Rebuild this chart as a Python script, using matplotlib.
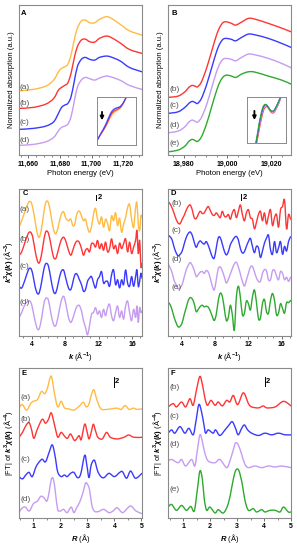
import matplotlib
matplotlib.use('Agg')
import matplotlib.pyplot as plt
from matplotlib.path import Path
from matplotlib.patches import PathPatch
from matplotlib.ticker import MultipleLocator, FuncFormatter

plt.rcParams.update({
    'font.family': ['Liberation Sans', 'DejaVu Sans'],
    'font.weight': 'bold',
    'font.size': 5.5,
    'mathtext.fontset': 'custom',
    'mathtext.rm': 'Liberation Sans:bold',
    'mathtext.it': 'Liberation Sans:italic:bold',
    'mathtext.bf': 'Liberation Sans:bold',
    'axes.linewidth': 0.8,
    'axes.edgecolor': '#8a8a8a',
    'xtick.major.size': 2.2,
    'xtick.minor.size': 1.2,
    'xtick.major.width': 0.6,
    'xtick.minor.width': 0.5,
    'xtick.color': '#555555',
    'xtick.labelcolor': 'black',
    'xtick.major.pad': 2.0,
    'xtick.labelsize': 5,
})

ORANGE = '#ffbb44'
RED = '#ff3535'
BLUE = '#3a3aff'
PURPLE = '#c59cf0'
GREEN = '#2eaa2e'
GRAY = '#555555'

# ---- A: L3-edge XANES (a.u.)
A_E = [11654, 11663, 11671, 11676, 11679, 11681, 11683, 11685, 11687, 11689, 11691,
       11693.5, 11696, 11699, 11702, 11705, 11709, 11712, 11718, 11724, 11732]
A_a = [64.3, 65.7, 69, 75, 83.3, 86.7, 88.3, 91, 100, 115, 126.7, 134, 135, 132.3, 132.3,
       135.7, 138.3, 137.3, 131, 124.3, 120]
A_b = [46.7, 47.7, 51, 56.7, 65, 67.7, 69.7, 72.3, 81.7, 96.7, 108.3, 115, 116, 113.3, 113,
       116.7, 119, 118, 112.3, 105.7, 101.7]
A_c = [25.7, 26.7, 29, 33.3, 41.7, 47.7, 50, 51.7, 58.3, 73.3, 88.3, 95.7, 97.7, 95.7, 95,
       97.7, 99, 98.3, 94.3, 87.7, 83.3]
A_d = [9.7, 10.7, 13.3, 17.7, 24.3, 27.7, 29, 31, 38.3, 53.3, 67.7, 75, 77.7, 76.3, 75,
       77, 79, 78.3, 75, 69.7, 65.7]

# inset of A (zoomed edge, a.u.)
Ai_x = [0, 8, 18, 28, 38, 46, 56, 68, 78, 88]
Ai_blue = [15, 30, 47, 67, 90, 103, 110, 115, 127, 147]
Ai_purple = [15, 31, 49, 70, 93, 106, 112, 116, 128, 147]
Ai_red = [15, 29, 45, 63, 85, 98, 105, 112, 126, 147]
Ai_orange = [15, 28, 43, 60, 80, 93, 102, 110, 125, 147]

# ---- B: K-edge XANES (a.u.)
B_E = [18972.8, 18977.4, 18980.5, 18982.3, 18983.8, 18985.1, 18986.3, 18988.1, 18990.4,
       18992.7, 18995, 18996.6, 18998.1, 18999.6, 19001.9, 19003.8, 19006.5, 19009.6,
       19012.6, 19018.8, 19024.9, 19029.2]
B_b = [57.7, 59, 63.3, 67.7, 69.7, 69, 68.3, 73.3, 86.7, 103.3, 120, 128.3, 132.7, 133.3,
       131.7, 130, 133, 136.7, 136, 131.7, 127, 123.3]
B_c = [41.7, 43.3, 47.7, 51.7, 53.7, 52.7, 51.7, 56.7, 70, 86.7, 103.3, 111.7, 116, 116.7,
       115.7, 114.3, 117.7, 121, 120.3, 116.7, 111.7, 107.7]
B_d = [22.3, 24, 28.3, 33, 35, 34, 33, 37.7, 50, 66.7, 83.3, 91.7, 96, 96.7, 95.7, 94.3,
       97.7, 101, 100.3, 96.7, 91.7, 87.3]
B_e = [3.3, 5, 9, 13.7, 15.7, 14.7, 13.7, 18.3, 31, 47.7, 64.3, 73.3, 78.3, 80, 79, 77.7,
       81, 83.3, 83, 79, 75, 71]

Bi_green_x = [25, 30, 35, 40, 45, 50, 56, 63, 70, 78, 86, 93, 100]
Bi_green = [0, 28, 58, 83, 103, 113, 115, 106, 96, 95, 108, 123, 140]
Bi_blue_x = [26, 31, 36, 41, 46, 51, 57, 64, 71, 79, 87, 94, 100]
Bi_blue = [0, 28, 58, 82, 102, 112, 114, 105, 96, 96, 110, 125, 138]
Bi_purple_x = [27, 32, 37, 42, 47, 52, 58, 65, 72, 80, 88, 95, 101]
Bi_purple = [0, 27, 55, 79, 99, 109, 111, 101, 93, 93, 107, 122, 138]
Bi_red_x = [28, 33, 38, 43, 48, 53, 59, 66, 73, 80, 88, 95, 101]
Bi_red = [0, 26, 53, 76, 96, 106, 108, 98, 90, 91, 105, 120, 138]

# ---- C: k3 chi(k), first edge (a.u.)
C_k = [2.48, 2.8, 3.2, 3.6, 3.88, 4.12, 4.4, 4.68, 4.92, 5.2, 5.48, 5.72, 6.0, 6.28, 6.6,
       6.88, 7.16, 7.48, 7.8, 8.08, 8.4, 8.68, 8.92, 9.16, 9.4, 9.68, 9.96, 10.2, 10.44,
       10.68, 10.92, 11.16, 11.4, 11.64, 11.88, 12.12, 12.36, 12.6, 12.84, 13.08, 13.32,
       13.56, 13.8, 14.04, 14.28, 14.52, 14.76, 15.0, 15.24, 15.48, 15.72, 15.96, 16.2,
       16.44, 16.6, 16.76, 16.92, 17.08, 17.2]
C_a = [332, 350, 380, 405, 408, 390, 350, 310, 300, 330, 380, 408, 405, 370, 325, 310, 330,
       365, 378, 358, 350, 355, 335, 340, 370, 380, 365, 350, 355, 330, 315, 332, 370, 388,
       355, 340, 362, 330, 355, 342, 320, 365, 350, 375, 335, 358, 315, 340, 360, 390, 400,
       355, 330, 390, 405, 340, 320, 365, 360]
C_b = [245, 255, 285, 312, 315, 300, 260, 228, 222, 250, 295, 318, 312, 280, 240, 235, 258,
       288, 300, 288, 260, 245, 260, 278, 288, 285, 265, 245, 260, 265, 255, 280, 280, 270,
       290, 265, 280, 260, 285, 255, 265, 295, 265, 275, 250, 282, 265, 280, 295, 255, 285,
       250, 270, 290, 320, 250, 290, 210, 220]
C_c = [150, 145, 170, 200, 205, 188, 150, 128, 132, 165, 205, 220, 212, 175, 135, 130, 158,
       192, 200, 175, 145, 140, 162, 185, 188, 172, 155, 135, 140, 165, 175, 180, 160, 145,
       170, 180, 195, 160, 165, 165, 150, 185, 200, 155, 170, 145, 170, 155, 200, 160, 150,
       180, 150, 180, 200, 150, 165, 190, 175]
C_d = [55, 70, 95, 105, 102, 80, 45, 20, 22, 55, 100, 114, 108, 70, 35, 30, 58, 100, 120,
       98, 55, 40, 52, 72, 88, 92, 75, 45, 25, 2, 30, 65, 70, 85, 65, 75, 55, 80, 60, 85, 95,
       60, 45, 70, 90, 55, 75, 50, 90, 105, 70, 45, 80, 55, 90, 40, 85, 70, 75]

# ---- D: k3 chi(k), second edge (a.u.)
D_k = [2.4, 2.64, 2.88, 3.12, 3.36, 3.6, 3.84, 4.08, 4.32, 4.56, 4.8, 5.04, 5.28, 5.52,
       5.76, 6.0, 6.24, 6.48, 6.72, 6.96, 7.2, 7.44, 7.68, 7.92, 8.16, 8.4, 8.64, 8.88,
       9.12, 9.36, 9.6, 9.84, 10.08, 10.32, 10.56, 10.8, 11.04, 11.28, 11.52, 11.76, 12.0,
       12.24, 12.48, 12.72, 12.96, 13.2, 13.44, 13.68, 13.92, 14.16, 14.4, 14.64, 14.88,
       15.12, 15.36, 15.6, 15.84, 16.08, 16.32, 16.56, 16.8, 17.04]
D_b = [420, 413, 400, 383, 365, 353, 351, 365, 377, 393, 405, 410, 395, 370, 367, 380, 390,
       383, 385, 397, 405, 393, 380, 377, 385, 377, 370, 390, 375, 373, 380, 365, 385, 395,
       370, 390, 410, 380, 360, 385, 395, 370, 365, 335, 355, 380, 390, 360, 385, 350, 375,
       395, 345, 370, 380, 340, 395, 405, 425, 335, 380, 365]
D_c = [315, 310, 300, 277, 260, 250, 255, 265, 287, 307, 320, 325, 315, 293, 277, 290, 297,
       291, 287, 295, 283, 265, 247, 243, 275, 307, 307, 287, 265, 253, 263, 285, 297, 307,
       311, 300, 273, 259, 263, 280, 295, 305, 280, 260, 280, 275, 245, 265, 290, 305, 315,
       270, 255, 295, 260, 275, 295, 255, 280, 265, 295, 310]
D_d = [225, 213, 197, 173, 160, 147, 150, 160, 183, 205, 220, 229, 220, 205, 185, 191, 199,
       201, 195, 204, 199, 180, 155, 143, 175, 210, 215, 203, 184, 165, 176, 193, 210, 225,
       230, 215, 193, 170, 155, 174, 195, 215, 217, 200, 181, 170, 170, 195, 207, 203, 175,
       175, 203, 205, 187, 175, 201, 195, 175, 183, 170, 183]
D_e = [105, 97, 80, 57, 40, 27, 29, 40, 65, 87, 109, 119, 115, 100, 75, 82, 91, 95, 90, 92,
       89, 77, 60, 47, 67, 110, 133, 123, 85, 47, 57, 95, 65, 17, 120, 155, 120, 65, 70, 108,
       100, 80, 120, 143, 105, 53, 55, 100, 113, 75, 70, 110, 132, 110, 65, 70, 100, 85, 70,
       103, 103, 110]

# ---- E: |FT|, first edge (a.u.)
Ea_R = [0.47, 0.59, 0.75, 0.9, 1.0, 1.15, 1.3, 1.42, 1.52, 1.66, 1.78, 1.9, 2.03, 2.15, 2.3,
        2.5, 2.7, 2.85, 2.95, 3.05, 3.15, 3.24, 3.35, 3.5, 3.7, 3.9, 4.1, 4.25, 4.4, 4.55,
        4.7, 4.85, 5.02]
Ea = [335, 345, 328, 348, 355, 360, 385, 378, 395, 432, 380, 338, 355, 335, 332, 328, 340,
      352, 338, 345, 375, 390, 360, 332, 330, 332, 334, 330, 342, 330, 334, 330, 332]
Eb_R = [0.47, 0.6, 0.72, 0.84, 0.93, 1.02, 1.15, 1.33, 1.45, 1.56, 1.66, 1.75, 1.82, 1.91,
        2.03, 2.16, 2.26, 2.38, 2.53, 2.69, 2.77, 2.9, 2.98, 3.06, 3.14, 3.22, 3.3, 3.39,
        3.55, 3.71, 3.85, 4.1, 4.35, 4.53, 4.72, 5.02]
Eb = [245, 260, 280, 290, 270, 242, 270, 300, 288, 300, 320, 295, 270, 245, 260, 248, 242,
      255, 235, 250, 238, 285, 265, 240, 260, 285, 265, 245, 240, 260, 245, 240, 245, 252,
      245, 245]
Ec_R = [0.47, 0.6, 0.72, 0.84, 0.96, 1.1, 1.22, 1.33, 1.45, 1.58, 1.7, 1.8, 1.9, 2.03, 2.15,
        2.25, 2.38, 2.5, 2.63, 2.75, 2.9, 2.98, 3.06, 3.14, 3.26, 3.38, 3.5, 3.62, 3.8, 4.0,
        4.2, 4.3, 4.45, 4.6, 4.78, 5.02]
Ec = [125, 118, 130, 138, 125, 155, 170, 178, 170, 198, 222, 190, 140, 125, 130, 125, 135,
      138, 122, 132, 190, 160, 122, 160, 175, 142, 125, 122, 135, 125, 138, 140, 120, 142,
      120, 135]
Ed_R = [0.47, 0.57, 0.7, 0.85, 1.0, 1.15, 1.28, 1.4, 1.5, 1.58, 1.66, 1.74, 1.82, 1.9, 2.0,
        2.12, 2.25, 2.4, 2.5, 2.6, 2.72, 2.85, 2.93, 3.0, 3.08, 3.16, 3.25, 3.4, 3.6, 3.8,
        3.95, 4.1, 4.3, 4.5, 4.62, 4.8, 5.02]
Ed = [15, 28, 32, 20, 42, 50, 65, 60, 50, 75, 115, 118, 75, 25, 20, 25, 15, 32, 15, 30, 48,
      80, 105, 102, 85, 40, 20, 18, 25, 15, 20, 30, 15, 30, 35, 20, 12]

# ---- F: |FT|, second edge (a.u.)
Fb_R = [0.44, 0.63, 0.75, 0.94, 1.09, 1.25, 1.37, 1.5, 1.62, 1.72, 1.81, 1.9, 2.03, 2.18,
        2.3, 2.45, 2.61, 2.73, 2.86, 3.02, 3.23, 3.42, 3.54, 3.79, 3.97, 4.1, 4.41, 4.72, 5.0]
Fb = [337, 347, 337, 352, 337, 362, 342, 392, 430, 402, 362, 342, 357, 342, 352, 340, 357,
      352, 372, 344, 380, 347, 337, 334, 340, 334, 337, 354, 340]
Fc_R = [0.44, 0.57, 0.69, 0.88, 1.06, 1.21, 1.37, 1.47, 1.58, 1.68, 1.77, 1.83, 1.93, 2.11,
        2.2, 2.36, 2.55, 2.7, 2.82, 2.94, 3.04, 3.17, 3.27, 3.39, 3.54, 3.79, 4.03, 4.28,
        4.53, 4.78, 5.0]
Fc = [257, 267, 257, 277, 257, 272, 252, 292, 344, 322, 282, 257, 267, 257, 267, 250, 267,
      282, 292, 272, 252, 272, 282, 267, 257, 250, 257, 252, 257, 252, 252]
Fd_R = [0.44, 0.57, 0.81, 0.94, 1.09, 1.31, 1.43, 1.52, 1.62, 1.71, 1.8, 1.93, 2.18, 2.36,
        2.61, 2.73, 2.86, 2.94, 3.04, 3.17, 3.29, 3.42, 3.66, 3.91, 4.16, 4.41, 4.65, 5.0]
Fd = [172, 177, 167, 177, 157, 177, 157, 202, 252, 232, 197, 172, 167, 177, 152, 172, 207,
      227, 222, 192, 162, 152, 157, 152, 157, 154, 157, 152]
Fe_R = [0.44, 0.57, 0.75, 0.94, 1.12, 1.28, 1.41, 1.52, 1.62, 1.71, 1.78, 1.87, 1.99, 2.18,
        2.3, 2.49, 2.67, 2.8, 2.9, 2.98, 3.07, 3.19, 3.29, 3.42, 3.6, 3.72, 3.91, 4.03, 4.22,
        4.41, 4.59, 4.72, 4.9, 5.0]
Fe = [32, 40, 22, 37, 22, 34, 20, 82, 142, 117, 57, 22, 32, 14, 24, 14, 42, 92, 132, 147,
      142, 102, 52, 22, 27, 17, 24, 17, 22, 22, 17, 32, 17, 17]

LW = 1.0


def curve(ax, x, y, color, lw=LW):
    # smooth stroke through the read points (cubic Bezier segments)
    pts = list(zip(x, y))
    n = len(pts)
    verts, codes = [pts[0]], [Path.MOVETO]
    for i in range(n - 1):
        p0, p1 = pts[max(i - 1, 0)], pts[i]
        p2, p3 = pts[i + 1], pts[min(i + 2, n - 1)]
        c1 = (p1[0] + (p2[0] - p0[0]) / 6, p1[1] + (p2[1] - p0[1]) / 6)
        c2 = (p2[0] - (p3[0] - p1[0]) / 6, p2[1] - (p3[1] - p1[1]) / 6)
        verts += [c1, c2, p2]
        codes += [Path.CURVE4] * 3
    ax.add_patch(PathPatch(Path(verts, codes), fill=False, edgecolor=color,
                           lw=lw, joinstyle='round', capstyle='round'))


def style(ax, xlim, ylim, major, minor, xlabel, ylabel, letter, lx, ly, comma=False):
    ax.set_xlim(xlim)
    ax.set_ylim(ylim)
    ax.set_yticks([])
    ax.xaxis.set_major_locator(MultipleLocator(major))
    ax.xaxis.set_minor_locator(MultipleLocator(minor))
    ax.tick_params(axis='x', which='both', direction='out', top=False)
    if comma:
        ax.xaxis.set_major_formatter(FuncFormatter(lambda v, p: f'{v:,.0f}'))
    ax.set_xlabel(xlabel, fontsize=5.5, labelpad=1.5)
    ax.set_ylabel(ylabel, fontsize=5.5, labelpad=3)
    ax.text(lx, ly, letter, transform=ax.transAxes, fontsize=5.5,
            fontweight='bold', ha='center', va='center')


def tags(ax, x, names, ys):
    for n, y in zip(names, ys):
        ax.text(x, y, n, fontsize=6, fontweight='normal', color=GRAY,
                ha='left', va='center')


def scalebar(ax, x, y0, y1, dx):
    ax.plot([x, x], [y0, y1], color='black', lw=0.7)
    ax.text(x + dx, (y0 + y1) / 2, '2', fontsize=5.5, fontweight='bold',
            ha='left', va='center')


def inset(ax, rect):
    ins = ax.inset_axes(rect)
    ins.set_xticks([])
    ins.set_yticks([])
    for s in ins.spines.values():
        s.set_color('#8a8a8a')
        s.set_linewidth(0.7)
    return ins


fig = plt.figure(figsize=(2.97, 5.5), dpi=100)
L1, L2, W = 0.064, 0.566, 0.414
axA = fig.add_axes([L1, 0.718, W, 0.2727])
axB = fig.add_axes([L2, 0.718, W, 0.2727])
axC = fig.add_axes([L1, 0.390, W, 0.2664])
axD = fig.add_axes([L2, 0.390, W, 0.2664])
axE = fig.add_axes([L1, 0.059, W, 0.271])
axF = fig.add_axes([L2, 0.059, W, 0.271])

# A
for y, c in zip([A_a, A_b, A_c, A_d], [ORANGE, RED, BLUE, PURPLE]):
    curve(axA, A_E, y, c)
style(axA, (11654, 11732), (0, 150), 20, 5, 'Photon energy (eV)',
      'Normalized absorption (a.u.)', 'A', 0.04, 0.945, comma=True)
tags(axA, 11654.6, ['(a)', '(b)', '(c)', '(d)'], [67.7, 51.7, 32.7, 14.3])
insA = inset(axA, [0.637, 0.067, 0.312, 0.322])
for y, c in zip([Ai_orange, Ai_red, Ai_purple, Ai_blue], [ORANGE, RED, PURPLE, BLUE]):
    curve(insA, Ai_x, y, c, lw=0.8)
insA.set_xlim(0, 115)
insA.set_ylim(0, 145)
insA.annotate('', xy=(14, 66), xytext=(14, 108),
              arrowprops=dict(arrowstyle='-|>', color='black', lw=1.3, mutation_scale=5))

# B
for y, c in zip([B_b, B_c, B_d, B_e], [RED, BLUE, PURPLE, GREEN]):
    curve(axB, B_E, y, c)
style(axB, (18972.8, 19029.2), (0, 150), 20, 5, 'Photon energy (eV)',
      'Normalized absorption (a.u.)', 'B', 0.054, 0.945, comma=True)
tags(axB, 18973.6, ['(b)', '(c)', '(d)', '(e)'], [65.7, 50, 30, 11.7])
insB = inset(axB, [0.645, 0.082, 0.312, 0.307])
for x, y, c in zip([Bi_red_x, Bi_purple_x, Bi_blue_x, Bi_green_x],
                   [Bi_red, Bi_purple, Bi_blue, Bi_green], [RED, PURPLE, BLUE, GREEN]):
    curve(insB, x, y, c, lw=0.8)
insB.set_xlim(0, 115)
insB.set_ylim(0, 138)
insB.annotate('', xy=(21, 60), xytext=(21, 104),
              arrowprops=dict(arrowstyle='-|>', color='black', lw=1.3, mutation_scale=5))

# C
for y, c in zip([C_a, C_b, C_c, C_d], [ORANGE, RED, BLUE, PURPLE]):
    curve(axC, C_k, y, c)
style(axC, (2.48, 17.2), (0, 447), 4, 1, r'$k$ (Å$^{-1}$)',
      r'$k^{3}\chi(k)$ (Å$^{-3}$)', 'C', 0.05, 0.972)
tags(axC, 2.5, ['(a)', '(b)', '(c)', '(d)'], [385, 292, 210, 100])
scalebar(axC, 11.72, 412, 430, 0.2)

# D
for y, c in zip([D_b, D_c, D_d, D_e], [RED, BLUE, PURPLE, GREEN]):
    curve(axD, D_k, y, c)
style(axD, (2.4, 17.1), (0, 460), 4, 1, r'$k$ (Å$^{-1}$)',
      r'$k^{3}\chi(k)$ (Å$^{-3}$)', 'D', 0.04, 0.972)
tags(axD, 2.75, ['(b)', '(c)', '(d)', '(e)'], [415, 330, 240, 150])
scalebar(axD, 11.12, 425, 443, 0.2)

# E
for x, y, c in zip([Ea_R, Eb_R, Ec_R, Ed_R], [Ea, Eb, Ec, Ed], [ORANGE, RED, BLUE, PURPLE]):
    curve(axE, x, y, c)
style(axE, (0.47, 5.02), (0, 455), 1, 0.5, r'$R$ (Å)',
      r'|FT| of $k^{3}\chi(k)$ (Å$^{-4}$)', 'E', 0.043, 0.968)
tags(axE, 0.53, ['(a)', '(b)', '(c)', '(d)'], [365, 300, 177, 55])
scalebar(axE, 3.98, 400, 428, 0.05)

# F
for x, y, c in zip([Fb_R, Fc_R, Fd_R, Fe_R], [Fb, Fc, Fd, Fe], [RED, BLUE, PURPLE, GREEN]):
    curve(axF, x, y, c)
style(axF, (0.44, 5.0), (0, 454), 1, 0.5, r'$R$ (Å)',
      r'|FT| of $k^{3}\chi(k)$ (Å$^{-4}$)', 'F', 0.04, 0.968)
tags(axF, 0.5, ['(b)', '(c)', '(d)', '(e)'], [397, 307, 222, 84])
scalebar(axF, 4.03, 400, 428, 0.05)

fig.savefig('out.png', dpi=100)
